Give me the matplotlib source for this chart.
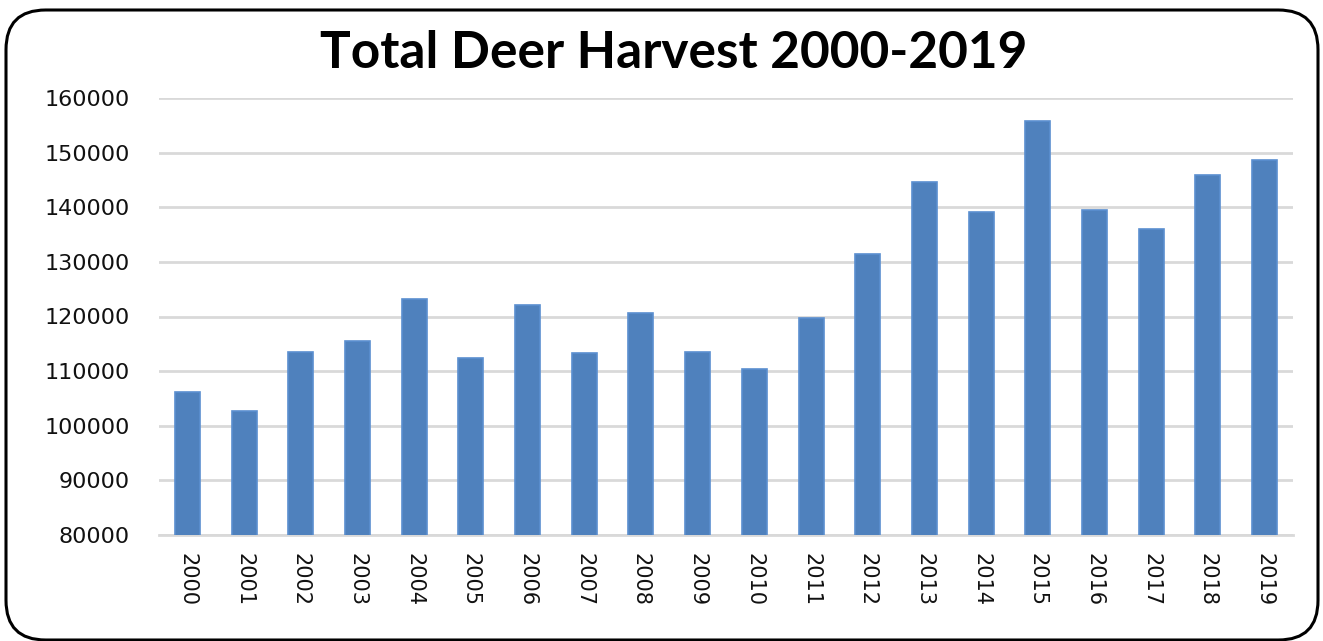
import matplotlib.pyplot as plt
from matplotlib.patches import FancyBboxPatch

years = [str(y) for y in range(2000, 2020)]
harvest = [106200, 102700, 113500, 115500, 123200, 112400, 122100, 113300,
           120600, 113500, 110400, 119700, 131400, 144600, 139100, 155800,
           139500, 136000, 145900, 148600]
yticks = list(range(80000, 160001, 10000))

fig = plt.figure(figsize=(13.23, 6.41), dpi=100)
fig.patch.set_facecolor('white')

# rounded outer frame
frame = FancyBboxPatch((6 / 1323, 1 / 641), 1312 / 1323, 630 / 641,
                       boxstyle="round,pad=0,rounding_size=0.03",
                       transform=fig.transFigure, fill=False,
                       edgecolor='black', linewidth=2.2,
                       mutation_aspect=1323 / 641)
fig.patches.append(frame)

ax = fig.add_axes([159 / 1323, 1 - 535 / 641, 1134 / 1323, 437 / 641])
ax.bar(range(len(years)), harvest, width=0.44, color='#4F81BD',
       edgecolor='#5B8FD0', linewidth=1.2, zorder=3)

ax.set_xlim(-0.5, len(years) - 0.5)
ax.set_ylim(80000, 160000)
ax.set_yticks(yticks)
ax.set_yticklabels([str(v) for v in yticks], fontsize=16, color='#111111')
ax.set_xticks(range(len(years)))
ax.set_xticklabels(years, rotation=270, fontsize=15, color='#111111')
ax.tick_params(axis='y', length=0, pad=21)
ax.tick_params(axis='x', length=0, pad=13)

ax.grid(axis='y', color='#D9D9D9', linewidth=2, zorder=0)
for s in ['top', 'right', 'left']:
    ax.spines[s].set_visible(False)
ax.spines['bottom'].set_color('#D9D9D9')
ax.spines['bottom'].set_linewidth(2)

fig.text(0.509, 1 - 54 / 641, 'Total Deer Harvest 2000-2019', ha='center',
         va='center', fontsize=37, fontweight='bold', family='Lato')

fig.savefig('out.png', dpi=100)
